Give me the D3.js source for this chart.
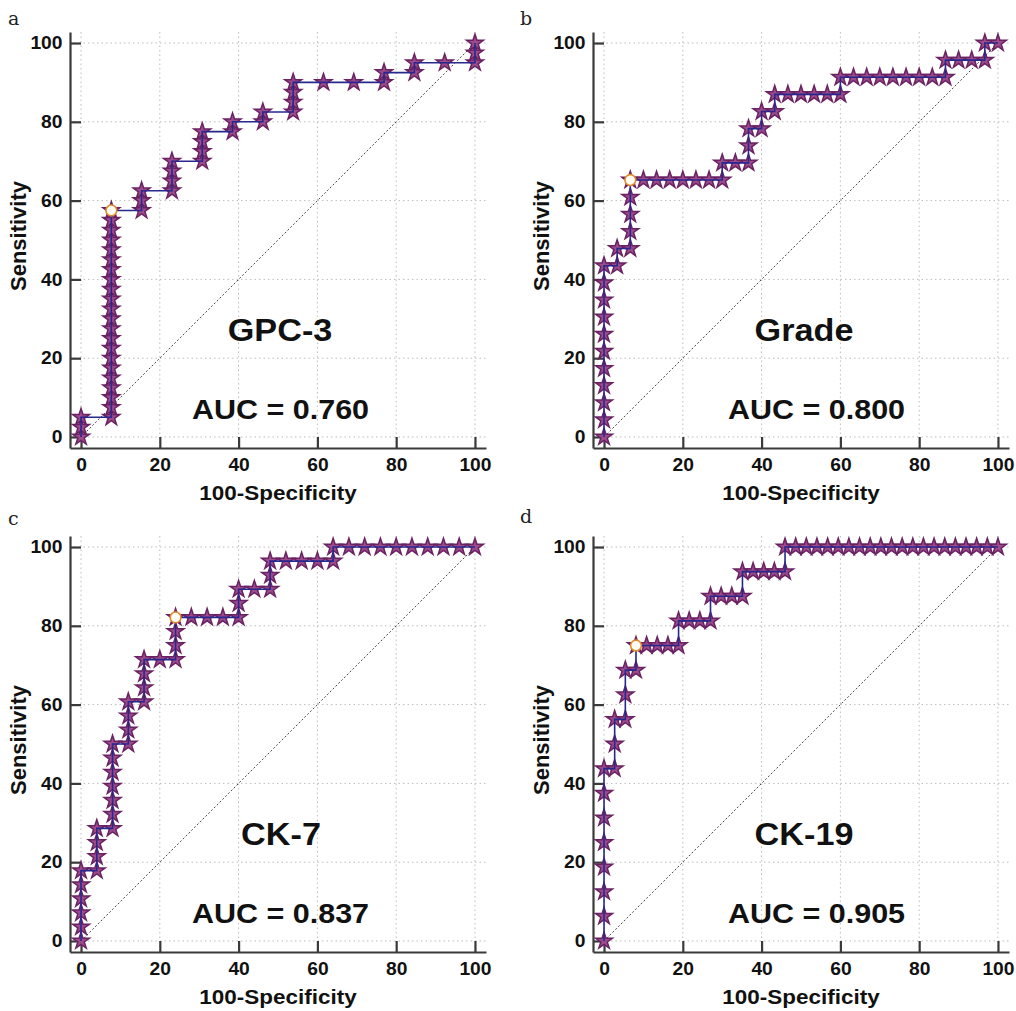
<!DOCTYPE html>
<html>
<head>
<meta charset="utf-8">
<script src="https://cdn.jsdelivr.net/npm/d3@7"></script>
<style>
  body { margin: 0; background: #fff; }
  svg { display: block; }
</style>
</head>
<body>
<svg id="chart" width="1016" height="1011"></svg>
<script>
// ROC points: 100-Specificity (x) and Sensitivity (y)
const gpcFpr = [0, 0, 0,
  7.69, 7.69, 7.69, 7.69, 7.69, 7.69, 7.69, 7.69, 7.69, 7.69, 7.69,
  7.69, 7.69, 7.69, 7.69, 7.69, 7.69, 7.69, 7.69, 7.69, 7.69, 7.69,
  15.38, 15.38, 15.38,
  23.08, 23.08, 23.08, 23.08,
  30.77, 30.77, 30.77, 30.77,
  38.46, 38.46,
  46.15, 46.15,
  53.85, 53.85, 53.85, 53.85,
  61.54, 69.23,
  76.92, 76.92,
  84.62, 84.62,
  92.31,
  100, 100, 100];
const gpcSens = [0, 2.5, 5,
  5, 7.5, 10, 12.5, 15, 17.5, 20, 22.5, 25, 27.5, 30,
  32.5, 35, 37.5, 40, 42.5, 45, 47.5, 50, 52.5, 55, 57.5,
  57.5, 60, 62.5,
  62.5, 65, 67.5, 70,
  70, 72.5, 75, 77.5,
  77.5, 80,
  80, 82.5,
  82.5, 85, 87.5, 90,
  90, 90,
  90, 92.5,
  92.5, 95,
  95,
  95, 97.5, 100];

const gradeFpr = [0, 0, 0, 0, 0, 0, 0, 0, 0, 0, 0,
  3.33, 3.33,
  6.67, 6.67, 6.67, 6.67, 6.67,
  10, 13.33, 16.67, 20, 23.33, 26.67,
  30, 30,
  33.33,
  36.67, 36.67, 36.67,
  40, 40,
  43.33, 43.33,
  46.67, 50, 53.33, 56.67,
  60, 60,
  63.33, 66.67, 70, 73.33, 76.67, 80, 83.33,
  86.67, 86.67,
  90, 93.33,
  96.67, 96.67,
  100];
const gradeSens = [0, 4.35, 8.7, 13.04, 17.39, 21.74, 26.09, 30.43, 34.78, 39.13, 43.48,
  43.48, 47.83,
  47.83, 52.17, 56.52, 60.87, 65.22,
  65.22, 65.22, 65.22, 65.22, 65.22, 65.22,
  65.22, 69.57,
  69.57,
  69.57, 73.91, 78.26,
  78.26, 82.61,
  82.61, 86.96,
  86.96, 86.96, 86.96, 86.96,
  86.96, 91.3,
  91.3, 91.3, 91.3, 91.3, 91.3, 91.3, 91.3,
  91.3, 95.65,
  95.65, 95.65,
  95.65, 100,
  100];

const ck7Fpr = [0, 0, 0, 0, 0, 0,
  4, 4, 4, 4,
  8, 8, 8, 8, 8, 8, 8,
  12, 12, 12, 12,
  16, 16, 16, 16,
  20,
  24, 24, 24, 24,
  28, 32, 36,
  40, 40, 40,
  44,
  48, 48, 48,
  52, 56, 60,
  64, 64,
  68, 72, 76, 80, 84, 88, 92, 96, 100];
const ck7Sens = [0, 3.57, 7.14, 10.71, 14.29, 17.86,
  17.86, 21.43, 25, 28.57,
  28.57, 32.14, 35.71, 39.29, 42.86, 46.43, 50,
  50, 53.57, 57.14, 60.71,
  60.71, 64.29, 67.86, 71.43,
  71.43,
  71.43, 75, 78.57, 82.14,
  82.14, 82.14, 82.14,
  82.14, 85.71, 89.29,
  89.29,
  89.29, 92.86, 96.43,
  96.43, 96.43, 96.43,
  96.43, 100,
  100, 100, 100, 100, 100, 100, 100, 100, 100];

const ck19Fpr = [0, 0, 0, 0, 0, 0, 0, 0,
  2.7, 2.7, 2.7,
  5.41, 5.41, 5.41,
  8.11, 8.11,
  10.81, 13.51, 16.22,
  18.92, 18.92,
  21.62, 24.32,
  27.03, 27.03,
  29.73, 32.43,
  35.14, 35.14,
  37.84, 40.54, 43.24,
  45.95, 45.95,
  48.65, 51.35, 54.05, 56.76, 59.46, 62.16, 64.86, 67.57, 70.27, 72.97,
  75.68, 78.38, 81.08, 83.78, 86.49, 89.19, 91.89, 94.59, 97.3, 100];
const ck19Sens = [0, 6.25, 12.5, 18.75, 25, 31.25, 37.5, 43.75,
  43.75, 50, 56.25,
  56.25, 62.5, 68.75,
  68.75, 75,
  75, 75, 75,
  75, 81.25,
  81.25, 81.25,
  81.25, 87.5,
  87.5, 87.5,
  87.5, 93.75,
  93.75, 93.75, 93.75,
  93.75, 100,
  100, 100, 100, 100, 100, 100, 100, 100, 100, 100,
  100, 100, 100, 100, 100, 100, 100, 100, 100, 100];

// optimal criterion (circle) per panel: [100-Specificity, Sensitivity]
const cutPoints = [[7.69, 57.5], [6.67, 65.22], [24, 82.14], [8.11, 75]];

const panelLetters = ['a', 'b', 'c', 'd'];
const markerNames = ['GPC-3', 'Grade', 'CK-7', 'CK-19'];
const aucLabels = ['AUC = 0.760', 'AUC = 0.800', 'AUC = 0.837', 'AUC = 0.905'];
const axisTicks = [0, 20, 40, 60, 80, 100];

// layout: axis corner (ox = left axis line, oy = top of axis), label centres
const panels = [
  { fpr: gpcFpr, sens: gpcSens, ox: 70, oy: 32, nameX: 199, aucX: 199.5, letterX: 8, letterY: 25 },
  { fpr: gradeFpr, sens: gradeSens, ox: 593, oy: 32, nameX: 200, aucX: 212.5, letterX: 520, letterY: 25 },
  { fpr: ck7Fpr, sens: ck7Sens, ox: 70, oy: 536, nameX: 200, aucX: 199.5, letterX: 8, letterY: 525 },
  { fpr: ck19Fpr, sens: ck19Sens, ox: 593, oy: 536, nameX: 200, aucX: 212.5, letterX: 520, letterY: 523 }
];

const svg = d3.select('#chart');
const font = '"Liberation Sans", Arial, Helvetica, sans-serif';
const axisLen = 416;   // axis line length in px
const pad = 2.8;       // axis runs a bit beyond 0..100
const stretch = 'scale(1.07,1)';

const star = d3.symbol().type(d3.symbolStar).size(88);

const drawPanel = (p, i) => {
  const g = svg.append('g');
  const x = d3.scaleLinear().domain([-pad, 100 + pad]).range([p.ox, p.ox + axisLen]);
  const y = d3.scaleLinear().domain([-pad, 100 + pad]).range([p.oy + axisLen, p.oy]);

  // dotted grid
  const grid = g.append('g')
    .attr('stroke', '#bdbdbd')
    .attr('stroke-width', 1)
    .attr('stroke-dasharray', '1.5,3');
  grid.selectAll('.vg').data(axisTicks).join('line')
    .attr('x1', d => x(d)).attr('x2', d => x(d))
    .attr('y1', y(100 + pad)).attr('y2', y(-pad));
  grid.selectAll('.hg').data(axisTicks).join('line')
    .attr('y1', d => y(d)).attr('y2', d => y(d))
    .attr('x1', x(-pad)).attr('x2', x(100 + pad));

  // reference diagonal
  g.append('line')
    .attr('x1', x(0)).attr('y1', y(0))
    .attr('x2', x(100)).attr('y2', y(100))
    .attr('stroke', '#333')
    .attr('stroke-width', 0.9)
    .attr('stroke-dasharray', '2,2');

  // axes
  const xAxis = d3.axisBottom(x)
    .tickValues(axisTicks)
    .tickSizeInner(-11)
    .tickSizeOuter(0)
    .tickPadding(10);
  const yAxis = d3.axisLeft(y)
    .tickValues(axisTicks)
    .tickSizeInner(-11)
    .tickSizeOuter(0)
    .tickPadding(7);

  [
    g.append('g').attr('transform', `translate(0,${p.oy + axisLen})`).call(xAxis),
    g.append('g').attr('transform', `translate(${p.ox},0)`).call(yAxis)
  ].forEach(a => {
    a.select('.domain').attr('stroke', '#3a3a3a').attr('stroke-width', 2.2);
    a.selectAll('.tick line').attr('stroke', '#3a3a3a').attr('stroke-width', 2.2);
    a.selectAll('.tick text')
      .attr('fill', '#111')
      .style('font-family', font)
      .style('font-weight', 'bold')
      .style('font-size', '18px')
      .attr('transform', stretch);
  });

  // axis titles
  g.append('text')
    .attr('transform', `translate(${(x(0) + x(100)) / 2},${p.oy + axisLen + 52}) ${stretch}`)
    .attr('text-anchor', 'middle')
    .style('font-family', font).style('font-weight', 'bold').style('font-size', '21px')
    .attr('fill', '#111')
    .text('100-Specificity');
  g.append('text')
    .attr('transform', `translate(${p.ox - 44},${(y(0) + y(100)) / 2 - 4}) rotate(-90)`)
    .attr('text-anchor', 'middle')
    .style('font-family', font).style('font-weight', 'bold').style('font-size', '22px')
    .attr('fill', '#111')
    .text('Sensitivity');

  // ROC markers and step line
  const pts = p.fpr.map((v, k) => [v, p.sens[k]]);
  g.append('g').selectAll('path').data(pts).join('path')
    .attr('d', star)
    .attr('transform', d => `translate(${x(d[0])},${y(d[1])})`)
    .attr('fill', '#9c4c8c')
    .attr('stroke', '#6a2262')
    .attr('stroke-width', 1.5);

  g.append('path')
    .datum(pts)
    .attr('d', d3.line().x(d => x(d[0])).y(d => y(d[1])))
    .attr('fill', 'none')
    .attr('stroke', '#27278e')
    .attr('stroke-width', 1.6);

  const cut = cutPoints[i];
  g.append('circle')
    .attr('cx', x(cut[0])).attr('cy', y(cut[1]))
    .attr('r', 5.4)
    .attr('fill', '#fffdf4')
    .attr('stroke', '#e08a2c')
    .attr('stroke-width', 1.6);

  // in-plot labels
  g.append('text')
    .attr('transform', `translate(${x(0) + p.nameX},${y(0) - 95.5}) ${stretch}`)
    .attr('text-anchor', 'middle')
    .style('font-family', font).style('font-weight', 'bold').style('font-size', '32px')
    .attr('fill', '#111')
    .text(markerNames[i]);
  g.append('text')
    .attr('transform', `translate(${x(0) + p.aucX},${y(0) - 17.5}) ${stretch}`)
    .attr('text-anchor', 'middle')
    .style('font-family', font).style('font-weight', 'bold').style('font-size', '28.5px')
    .attr('fill', '#111')
    .text(aucLabels[i]);

  // panel letter
  svg.append('text')
    .attr('x', p.letterX).attr('y', p.letterY)
    .style('font-family', '"DejaVu Serif", "Liberation Serif", serif')
    .style('font-size', '19px')
    .attr('fill', '#222')
    .text(panelLetters[i]);
};

panels.forEach(drawPanel);
</script>
</body>
</html>
